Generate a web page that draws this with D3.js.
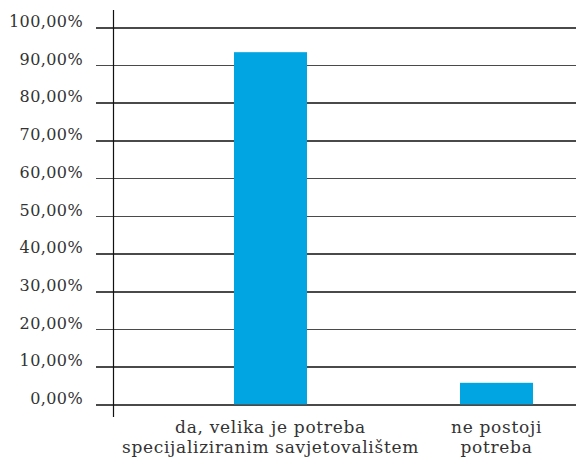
<!DOCTYPE html>
<html>
<head>
<meta charset="utf-8">
<script src="https://cdn.jsdelivr.net/npm/d3@7"></script>
<style>
  html, body { margin: 0; padding: 0; background: #fff; }
  svg { display: block; }
</style>
</head>
<body>
<div id="chart"></div>
<script>
// Survey answers and their shares (percent)
const categories = [
  ["da, velika je potreba", "specijaliziranim savjetovalištem"],
  ["ne postoji", "potreba"]
];
const values = [93.4, 5.7];
const tickValues = [0, 10, 20, 30, 40, 50, 60, 70, 80, 90, 100];

const W = 576, H = 458;
const fontFamily = "'DejaVu Serif', serif";
const textColor = "#333";

const svg = d3.select("#chart").append("svg")
  .attr("width", W).attr("height", H);

const keys = categories.map(c => c.join(" "));

const y = d3.scaleLinear().domain([0, 100]).range([404.3, 27.3]);
const x = d3.scaleBand().domain(keys).range([157.5, 609.5]).padding(0);
const barW = x.bandwidth() * 0.323;

// horizontal gridlines with percentage labels
const yAxis = d3.axisLeft(y)
  .tickValues(tickValues)
  .tickSize(-(576 - 96))
  .tickPadding(13)
  .tickFormat(d => d3.format(".2f")(d).replace(".", ",") + "%");

const gy = svg.append("g")
  .attr("transform", "translate(96,0)")
  .call(yAxis);
gy.select(".domain").remove();
gy.selectAll(".tick line")
  .attr("stroke", "#4a4a4a")
  .attr("stroke-width", 1.6)
  .attr("shape-rendering", "crispEdges");
gy.selectAll(".tick text")
  .attr("font-family", fontFamily)
  .attr("font-size", 16)
  .attr("letter-spacing", 0.4)
  .attr("fill", textColor)
  .attr("dy", "-0.05em");

// bars
svg.append("g").selectAll("rect")
  .data(values)
  .join("rect")
  .attr("x", (d, i) => x(keys[i]) + x.bandwidth() / 2 - barW / 2)
  .attr("width", barW)
  .attr("y", d => y(d))
  .attr("height", d => y(0) - y(d))
  .attr("fill", "#00a5e2");

// vertical axis line
svg.append("line")
  .attr("x1", 113.5).attr("x2", 113.5)
  .attr("y1", 10).attr("y2", 417)
  .attr("stroke", "#111").attr("stroke-width", 1.2);

// category labels
const labels = svg.append("g").selectAll("text")
  .data(categories)
  .join("text")
  .attr("font-family", fontFamily)
  .attr("font-size", 17)
  .attr("letter-spacing", 0.7)
  .attr("fill", textColor)
  .attr("text-anchor", "middle");
labels.selectAll("tspan")
  .data((d, i) => d.map(line => ({ line, i })))
  .join("tspan")
  .attr("x", d => x(keys[d.i]) + x.bandwidth() / 2)
  .attr("y", (d, j) => 433 + j * 20)
  .text(d => d.line);
</script>
</body>
</html>
